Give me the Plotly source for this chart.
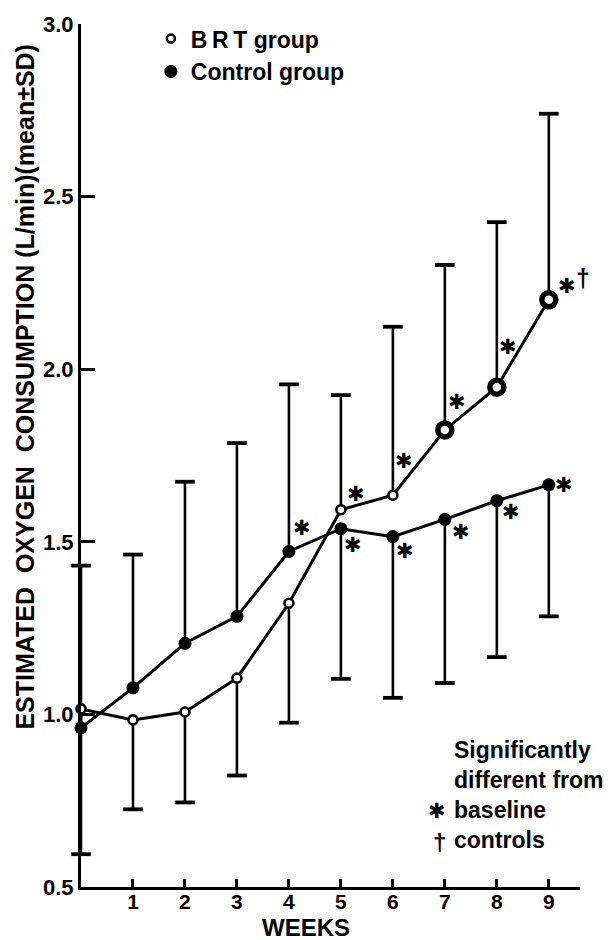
import plotly.graph_objects as go

# ---------------- data ----------------
weeks = [0, 1, 2, 3, 4, 5, 6, 7, 8, 9]
brt_mean = [1.016, 0.984, 1.007, 1.105, 1.322, 1.593, 1.635, 1.824, 1.948, 2.201]
brt_sd = [0.421, 0.259, 0.262, 0.282, 0.346, 0.332, 0.488, 0.478, 0.478, 0.539]
ctrl_mean = [0.961, 1.077, 1.206, 1.284, 1.472, 1.538, 1.515, 1.565, 1.619, 1.665]
ctrl_sd = [0.470, 0.386, 0.468, 0.502, 0.484, 0.435, 0.467, 0.474, 0.453, 0.381]

brt_sig_baseline_weeks = [5, 6, 7, 8, 9]
brt_sig_control_weeks = [9]
ctrl_sig_baseline_weeks = [4, 5, 6, 7, 8, 9]
brt_ring_weeks = [7, 8, 9]

x_tick_vals = [1, 2, 3, 4, 5, 6, 7, 8, 9]
y_tick_vals = [0.5, 1.0, 1.5, 2.0, 2.5, 3.0]
y_tick_text = ["0.5", "1.0", "1.5", "2.0", "2.5", "3.0"]

# ---------------- style ----------------
FONT = "Liberation Sans, Arial, Helvetica, sans-serif"
INK = "#000000"
brt_err_dir = [-1, -1, -1, -1, -1, 1, 1, 1, 1, 1]
ctrl_err_dir = [1, 1, 1, 1, 1, -1, -1, -1, -1, -1]
# pixel offsets of the significance asterisks (x right, y up)
brt_star_off = {5: (15, 16), 6: (11, 34), 7: (12, 28), 8: (11, 40), 9: (18, 14)}
ctrl_star_off = {4: (13, 23), 5: (12, -16), 6: (12, -14), 7: (16, -13), 8: (14, -11), 9: (15, 0)}
dagger_off = (34, 22)
STAR_FONT = dict(family="DejaVu Sans", size=21, color=INK, weight="bold")


def err_segments(xs, means, sds, dirs):
    sx, sy, cx, cy = [], [], [], []
    for x, m, s, d in zip(xs, means, sds, dirs):
        end = m + d * s
        sx += [x, x, None]
        sy += [m, end, None]
        cx.append(x)
        cy.append(end)
    return sx, sy, cx, cy


fig = go.Figure()

for means, sds, dirs in [(ctrl_mean, ctrl_sd, ctrl_err_dir), (brt_mean, brt_sd, brt_err_dir)]:
    sx, sy, cx, cy = err_segments(weeks, means, sds, dirs)
    fig.add_trace(go.Scatter(x=sx, y=sy, mode="lines", line=dict(color=INK, width=2.6),
                             showlegend=False, hoverinfo="skip", cliponaxis=False))
    fig.add_trace(go.Scatter(x=cx, y=cy, mode="markers",
                             marker=dict(symbol="line-ew", size=14, color=INK,
                                         line=dict(color=INK, width=3.8)),
                             showlegend=False, hoverinfo="skip", cliponaxis=False))

# control group line
fig.add_trace(go.Scatter(x=weeks, y=ctrl_mean, mode="lines+markers",
                         line=dict(color=INK, width=3),
                         marker=dict(symbol="circle", size=13, color=INK,
                                     line=dict(color=INK, width=0)),
                         showlegend=False, cliponaxis=False))
# BRT group line
fig.add_trace(go.Scatter(x=weeks, y=brt_mean, mode="lines+markers",
                         line=dict(color=INK, width=3),
                         marker=dict(symbol="circle", size=9, color="#ffffff",
                                     line=dict(color=INK, width=2.6)),
                         showlegend=False, cliponaxis=False))
# BRT double rings
brt_by_week = dict(zip(weeks, brt_mean))
fig.add_trace(go.Scatter(x=brt_ring_weeks, y=[brt_by_week[w] for w in brt_ring_weeks],
                         mode="markers",
                         marker=dict(symbol="circle", size=14, color="#ffffff",
                                     line=dict(color=INK, width=5.5)),
                         showlegend=False, cliponaxis=False))

# legend-only entries
fig.add_trace(go.Scatter(x=[None], y=[None], mode="markers", name="B\u2009R\u2009T group",
                         marker=dict(symbol="circle", size=8, color="#ffffff",
                                     line=dict(color=INK, width=2.5))))
fig.add_trace(go.Scatter(x=[None], y=[None], mode="markers", name="Control group",
                         marker=dict(symbol="circle", size=13, color=INK,
                                     line=dict(color=INK, width=0))))

# significance marks
ann = []
ctrl_by_week = dict(zip(weeks, ctrl_mean))
for w in brt_sig_baseline_weeks:
    dx, dy = brt_star_off[w]
    ann.append(dict(x=w, y=brt_by_week[w], text="\u2731", showarrow=False,
                    xshift=dx, yshift=dy, font=STAR_FONT))
for w in brt_sig_control_weeks:
    ann.append(dict(x=w, y=brt_by_week[w], text="\u2020", showarrow=False,
                    xshift=dagger_off[0], yshift=dagger_off[1],
                    font=dict(family=FONT, size=25, color=INK, weight="bold")))
for w in ctrl_sig_baseline_weeks:
    dx, dy = ctrl_star_off[w]
    ann.append(dict(x=w, y=ctrl_by_week[w], text="\u2731", showarrow=False,
                    xshift=dx, yshift=dy, font=STAR_FONT))

# y-axis title
ann.append(dict(xref="paper", yref="paper", x=-0.112, y=0.58, xanchor="center", yanchor="middle",
                text="ESTIMATED\u00a0\u00a0OXYGEN\u00a0\u00a0CONSUMPTION\u00a0(L/min)(mean\u00b1SD)",
                textangle=-90, showarrow=False,
                font=dict(family=FONT, size=25, color=INK, weight="bold")))
# x-axis title
ann.append(dict(xref="paper", yref="paper", x=0.451, y=-0.047, xanchor="center", yanchor="middle",
                text="WEEKS", showarrow=False,
                font=dict(family=FONT, size=24, color=INK, weight="bold")))
# key for significance symbols
ann.append(dict(xref="paper", yref="paper", x=0.7435, y=0.107, xanchor="left", yanchor="middle",
                align="left", text="Significantly<br>different from<br>baseline<br>controls",
                showarrow=False, font=dict(family=FONT, size=23, color=INK, weight="bold")))
ann.append(dict(xref="paper", yref="paper", x=0.7435, y=0.107, xanchor="right", yanchor="top",
                text="\u2731", showarrow=False, xshift=-4, yshift=-2, font=STAR_FONT))
ann.append(dict(xref="paper", yref="paper", x=0.7435, y=0.107, xanchor="right", yanchor="top",
                text="\u2020", showarrow=False, xshift=-4, yshift=-32,
                font=dict(family=FONT, size=24, color=INK, weight="bold")))

fig.update_layout(
    width=611, height=940,
    margin=dict(l=81, r=31, t=20, b=53),
    paper_bgcolor="white", plot_bgcolor="white",
    font=dict(family=FONT, size=22, color=INK, weight="bold"),
    showlegend=True,
    legend=dict(x=0.14, y=1.008, xanchor="left", yanchor="top", bgcolor="rgba(0,0,0,0)",
                font=dict(family=FONT, size=23, color=INK, weight="bold"), tracegroupgap=0,
                itemwidth=30),
    annotations=ann,
    xaxis=dict(range=[0, 9.6], showgrid=False, zeroline=False, showline=True,
               linecolor=INK, linewidth=3, ticks="inside", ticklen=8, tickwidth=3,
               tickcolor=INK, tickvals=x_tick_vals, ticklabelstandoff=-6,
               tickfont=dict(family=FONT, size=21, color=INK, weight="bold")),
    yaxis=dict(range=[0.5, 3.0], showgrid=False, zeroline=False, showline=True,
               linecolor=INK, linewidth=3, ticks="inside", ticklen=14, tickwidth=3,
               tickcolor=INK, tickvals=y_tick_vals, ticktext=y_tick_text,
               tickfont=dict(family=FONT, size=22, color=INK, weight="bold")),
)

fig.write_html("out.html", post_script="document.body.style.margin='0';",
               config={"displayModeBar": False})
